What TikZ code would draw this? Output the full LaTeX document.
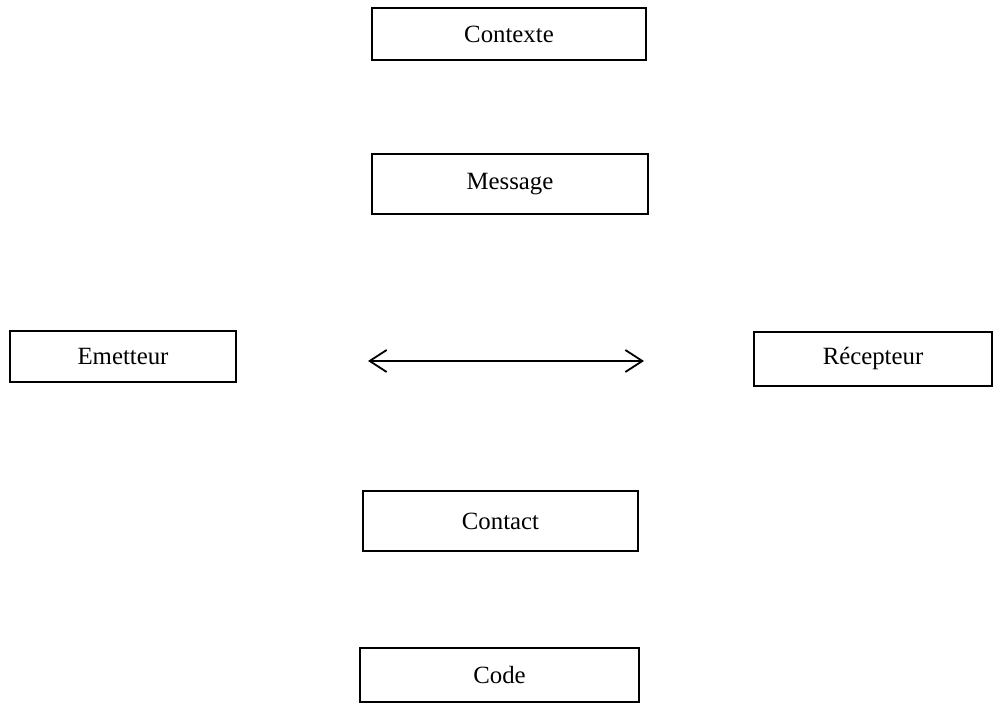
\documentclass[tikz,border=0pt]{standalone}
\usepackage{fontspec}
\setmainfont{Liberation Serif}
\usetikzlibrary{
  arrows.meta,
  positioning
}

\begin{document}
\begin{tikzpicture}[
      x=0.5pt, y=-0.5pt,
      bloc/.style={
         rectangle,
         draw=black,
         line width=1.4pt,
         inner sep=0pt,
         font=\fontsize{12.4}{14}\selectfont,
         %text height=1.5ex,
         %text depth=.25ex
      },
      point/.style={coordinate},
      tip/.style={{Straight Barb[length=8.5pt,width=11pt]}-{Straight Barb[length=8.5pt,width=11pt]},line width=0.9pt}
    ]
    \useasboundingbox (0,0) rectangle (995,704);
    % les six facteurs
    \node (ctx) [bloc, minimum width=137pt, minimum height=26pt] at (509,34) {Contexte};
    \node (msg) [bloc, minimum width=138pt, minimum height=30pt] at (510,184) {Message};
    \node (emt) [bloc, minimum width=113pt, minimum height=25.5pt] at (123,356.5) {Emetteur};
    \node (rcp) [bloc, minimum width=119pt, minimum height=27pt] at (873,359) {Récepteur};
    \node (cnt) [bloc, minimum width=137.5pt, minimum height=30pt] at (500.5,521) {Contact};
    \node (cod) [bloc, minimum width=139.5pt, minimum height=27pt] at (499.5,675) {Code};
    % fleche centrale
    \node (ga) [point] at (368,361) {};
    \node (dr) [point] at (644,361) {};
    \draw[tip] (ga) -- (dr);
\end{tikzpicture}
\end{document}
